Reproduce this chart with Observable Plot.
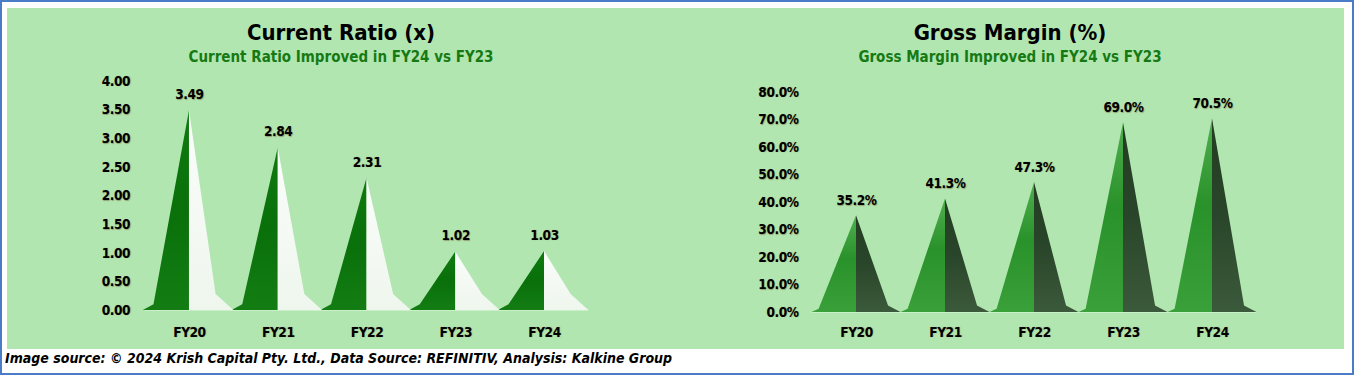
<!DOCTYPE html>
<html><head><meta charset="utf-8">
<script src="https://cdn.jsdelivr.net/npm/d3@7"></script>
<script src="https://cdn.jsdelivr.net/npm/@observablehq/plot@0.6"></script>
<style>
html,body{margin:0;padding:0;background:#fff;}
body{width:1354px;height:375px;position:relative;overflow:hidden;font-family:"Liberation Sans Narrow","DejaVu Sans Condensed","Arial Narrow",sans-serif;}
#frame{position:absolute;left:0;top:0;width:1354px;height:375px;box-sizing:border-box;border:2px solid #4a7cc7;}
#panel{position:absolute;left:7px;top:8px;width:1337px;height:341px;background:#b2e6b1;}
.title{position:absolute;width:400px;text-align:center;font-weight:bold;font-size:22px;line-height:26px;color:#000;top:20px;}
.sub{position:absolute;width:400px;text-align:center;font-weight:bold;font-size:15px;line-height:18px;color:#167a14;top:48px;}
.chart{position:absolute;top:70px;}
.chart svg text{letter-spacing:-0.4px;text-shadow:0.6px 0.6px 1px rgba(110,80,30,0.45);}
#footer{position:absolute;left:5px;top:349px;font-weight:bold;font-style:italic;font-size:14px;line-height:18px;color:#000;white-space:nowrap;}
</style></head>
<body>
<svg width="0" height="0" style="position:absolute">
  <defs>
    <linearGradient id="crL" x1="0" y1="0" x2="0" y2="1">
      <stop offset="0" stop-color="#0f7a0f"/><stop offset="0.5" stop-color="#0a700a"/><stop offset="1" stop-color="#137d13"/>
    </linearGradient>
    <linearGradient id="crR" x1="0" y1="0" x2="0" y2="1">
      <stop offset="0" stop-color="#fbfdfb"/><stop offset="1" stop-color="#eef6ed"/>
    </linearGradient>
    <linearGradient id="gmL" x1="0" y1="0" x2="0" y2="1">
      <stop offset="0" stop-color="#4fae4f"/><stop offset="0.45" stop-color="#2a922a"/><stop offset="1" stop-color="#3aa03a"/>
    </linearGradient>
    <linearGradient id="gmR" x1="0" y1="0" x2="0" y2="1">
      <stop offset="0" stop-color="#223c22"/><stop offset="0.5" stop-color="#2a462a"/><stop offset="1" stop-color="#3b593b"/>
    </linearGradient>
  </defs>
</svg>
<div id="frame"></div>
<div id="panel"></div>
<div class="title" style="left:141px">Current Ratio (x)</div>
<div class="sub" style="left:141px">Current Ratio Improved in FY24 vs FY23</div>
<div class="title" style="left:810px">Gross Margin (%)</div>
<div class="sub" style="left:810px">Gross Margin Improved in FY24 vs FY23</div>
<div class="chart" id="c1" style="left:7px"></div>
<div class="chart" id="c2" style="left:677px"></div>
<div id="footer">Image source: © 2024 Krish Capital Pty. Ltd., Data Source: REFINITIV, Analysis: Kalkine Group</div>
<script>
const categories = ["FY20","FY21","FY22","FY23","FY24"];
const currentRatio = [3.49, 2.84, 2.31, 1.02, 1.03];
const grossMargin = [35.2, 41.3, 47.3, 69.0, 70.5];
const crTicks = [0, 0.5, 1, 1.5, 2, 2.5, 3, 3.5, 4];
const gmTicks = [0, 10, 20, 30, 40, 50, 60, 70, 80];

const FONT = '"Liberation Sans Narrow","DejaVu Sans Condensed","Arial Narrow",sans-serif';

// pyramid outline profile (style): offsets in band units, shoulder heights as fraction of axis max
function pyramid(values, prof, ymax) {
  const rows = [];
  values.forEach((v, i) => {
    rows.push({g: i + "L", side: "L", x: i + prof.lb, y: 0});
    rows.push({g: i + "L", side: "L", x: i + prof.lsx, y: prof.lsy * ymax});
    rows.push({g: i + "L", side: "L", x: i, y: v});
    rows.push({g: i + "R", side: "R", x: i, y: v});
    rows.push({g: i + "R", side: "R", x: i + prof.rsx, y: prof.rsy * ymax});
    rows.push({g: i + "R", side: "R", x: i + prof.rb, y: 0});
  });
  return rows;
}

function chart({values, ticks, ymax, tickFmt, labelFmt, prof, colL, colR, width, mL, mR, mT, mB, yPad, xPad, dy}) {
  const rows = pyramid(values, prof, ymax);
  const idx = categories.map((c, i) => i);
  const lab = values.map((v, i) => ({i, v}));
  return Plot.plot({
    width, height: 270,
    marginLeft: mL, marginRight: mR, marginTop: mT, marginBottom: mB,
    x: {domain: [-0.5, categories.length - 0.5]},
    y: {domain: [0, ymax]},
    style: {fontFamily: FONT, fontSize: "14px", fontWeight: "bold", color: "#000", background: "transparent", overflow: "visible"},
    marks: [
      Plot.ruleY([0], {stroke: "#c9f0c8", strokeWidth: 1}),
      Plot.areaY(rows.filter(d => d.side === "L"), {x: "x", y: "y", z: "g", fill: colL}),
      Plot.areaY(rows.filter(d => d.side === "R"), {x: "x", y: "y", z: "g", fill: colR}),
      Plot.axisY({ticks, tickFormat: tickFmt, tickSize: 0, tickPadding: yPad, fontSize: 13.5, fontWeight: "bold"}),
      Plot.axisX({ticks: idx, tickFormat: i => categories[i], tickSize: 0, tickPadding: xPad, fontSize: 13.5, fontWeight: "bold"}),
      Plot.text(lab, {x: "i", y: "v", text: d => labelFmt(d.v), dy, fontSize: 13.5, fontWeight: "bold", fill: "#000"})
    ]
  });
}

document.getElementById("c1").append(chart({
  values: currentRatio, ticks: crTicks, ymax: 4,
  tickFmt: d => d.toFixed(2), labelFmt: v => v.toFixed(2),
  prof: {lb: -0.52, lsx: -0.4, lsy: 0.025, rsx: 0.3, rsy: 0.07, rb: 0.5},
  colL: "url(#crL)", colR: "url(#crR)",
  width: 670, mL: 137.6, mR: 88.6, mT: 11, mB: 30, yPad: 15, xPad: 16.7, dy: -16
}));

document.getElementById("c2").append(chart({
  values: grossMargin, ticks: gmTicks, ymax: 80,
  tickFmt: d => d.toFixed(1) + "%", labelFmt: v => v.toFixed(1) + "%",
  prof: {lb: -0.5, lsx: -0.42, lsy: 0.015, rsx: 0.36, rsy: 0.03, rb: 0.5},
  colL: "url(#gmL)", colR: "url(#gmR)",
  width: 667, mL: 134.5, mR: 87.5, mT: 22, mB: 28, yPad: 13.5, xPad: 14.7, dy: -15
}));
</script>
</body></html>
